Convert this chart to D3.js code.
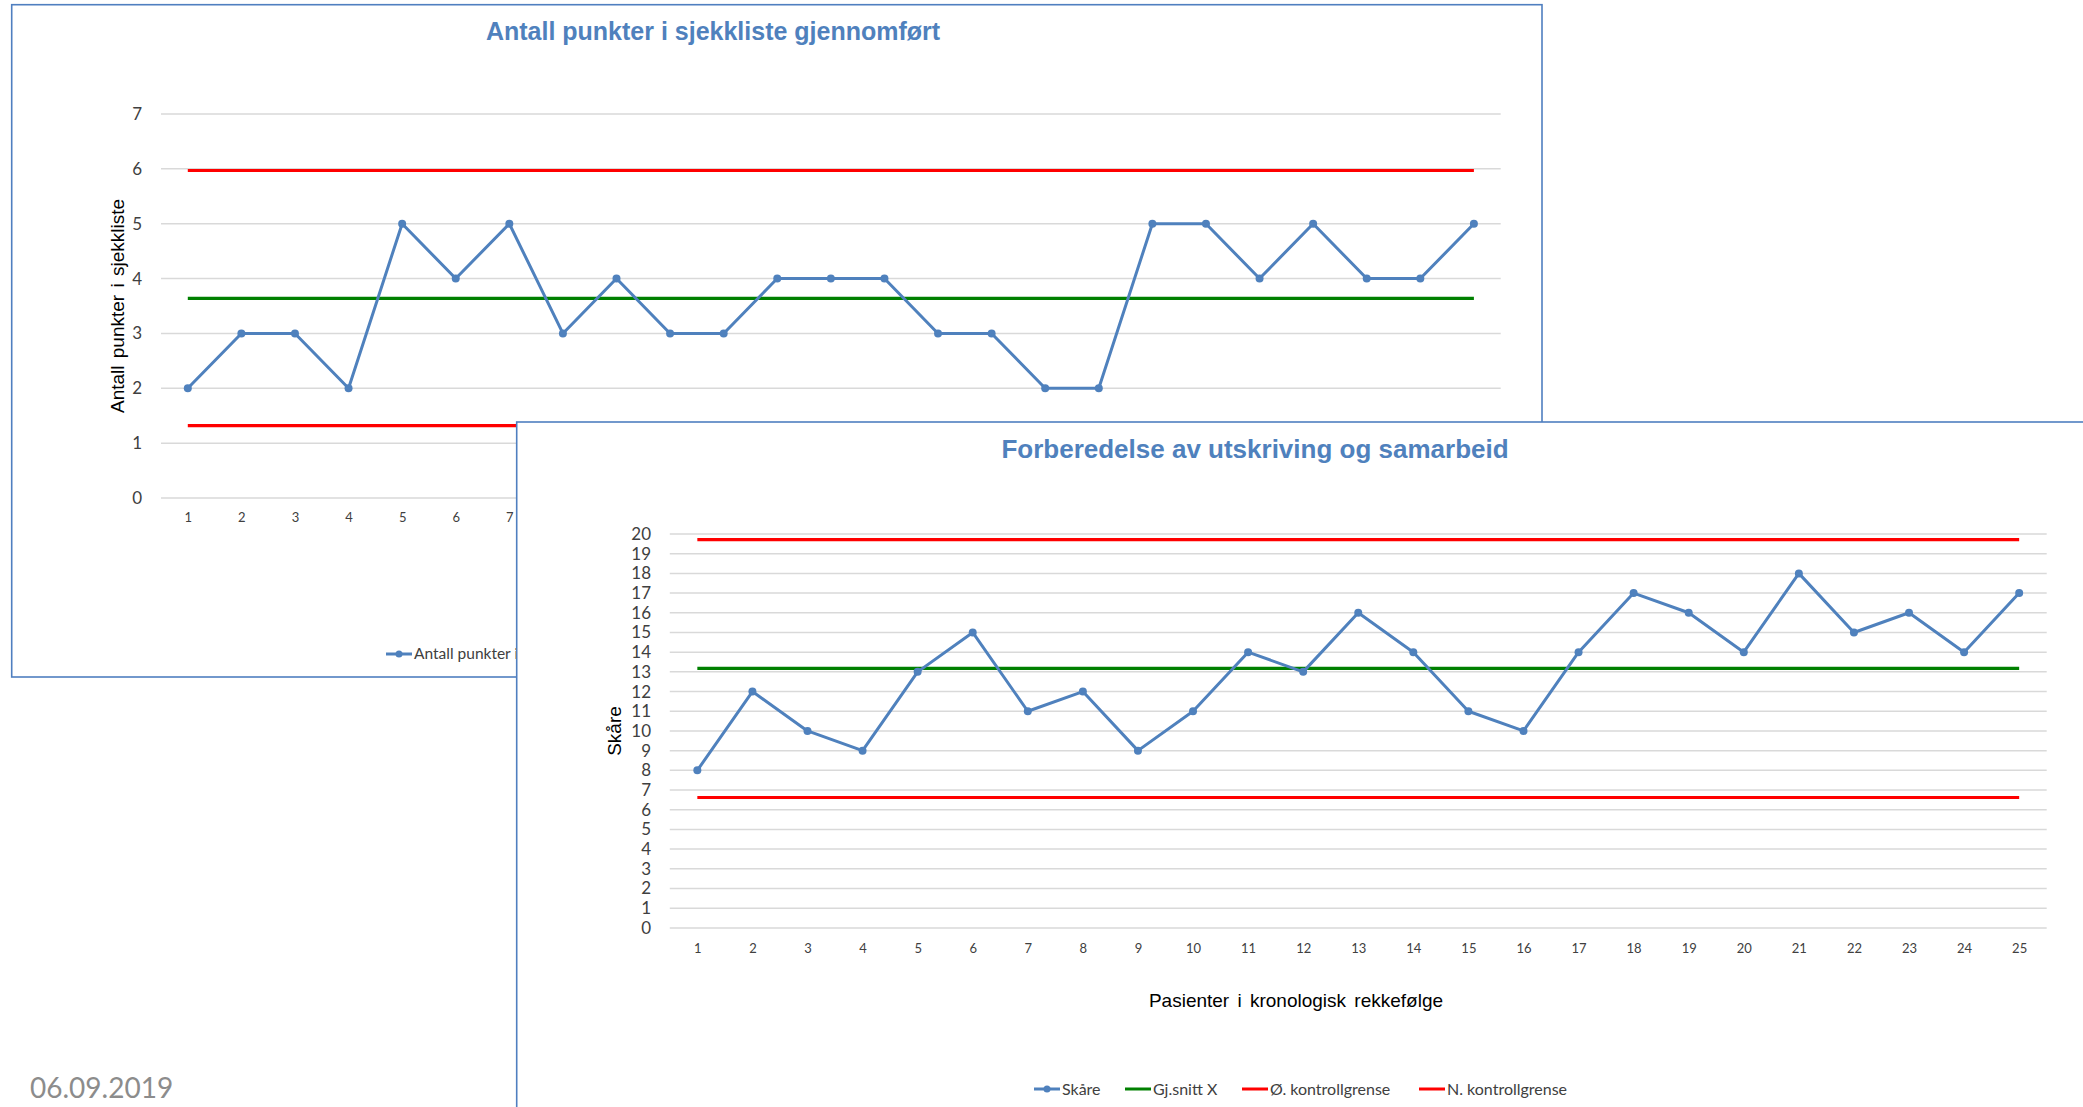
<!DOCTYPE html>
<html>
<head>
<meta charset="utf-8">
<script src="https://cdn.jsdelivr.net/npm/d3@7"></script>
<style>
  html, body { margin: 0; padding: 0; background: #ffffff; }
  svg { display: block; }
</style>
</head>
<body>
<script>
// ---- Data ----
const patients = d3.range(1, 26);

// Chart 1: number of checklist items completed
const checklistTitle = "Antall punkter i sjekkliste gjennomført";
const checklistValues = [2, 3, 3, 2, 5, 4, 5, 3, 4, 3, 3, 4, 4, 4, 3, 3, 2, 2, 5, 5, 4, 5, 4, 4, 5];
const checklistMean = 3.64;
const checklistUCL = 5.97;
const checklistLCL = 1.32;
const checklistYTicks = [0, 1, 2, 3, 4, 5, 6, 7];

// Chart 2: discharge preparation and collaboration score
const scoreTitle = "Forberedelse av utskriving og samarbeid";
const scoreValues = [8, 12, 10, 9, 13, 15, 11, 12, 9, 11, 14, 13, 16, 14, 11, 10, 14, 17, 16, 14, 18, 15, 16, 14, 17];
const scoreMean = 13.18;
const scoreUCL = 19.71;
const scoreLCL = 6.62;
const scoreYTicks = d3.range(0, 21);

const legendLabels = ["Skåre", "Gj.snitt X", "Ø. kontrollgrense", "N. kontrollgrense"];
const dateLabel = "06.09.2019";

// ---- Styles ----
const BLUE = "#4f81bd";
const RED = "#ff0000";
const GREEN = "#008000";
const GRID = "#d9d9d9";
const TEXT = "#404040";
const FRAME = "#4f7fc0";

const W = 2083, H = 1107;
const svg = d3.select("body").append("svg")
  .attr("width", W).attr("height", H);

svg.append("rect").attr("width", W).attr("height", H).attr("fill", "#fff");

// date footer
svg.append("text")
  .attr("x", 30).attr("y", 1098)
  .attr("font-family", "Lato, 'Open Sans', sans-serif")
  .attr("font-size", 28)
  .attr("fill", "#8c8c8c")
  .text(dateLabel);

function controlChart(g, cfg) {
  const x = d3.scalePoint().domain(patients).range(cfg.xRange).padding(0.5);
  const y = d3.scaleLinear().domain(cfg.yDomain).range(cfg.yRange);

  // frame
  g.append("rect")
    .attr("x", cfg.box[0]).attr("y", cfg.box[1])
    .attr("width", cfg.box[2]).attr("height", cfg.box[3])
    .attr("fill", "#fff").attr("stroke", FRAME).attr("stroke-width", 1.6);

  // title
  g.append("text")
    .attr("x", cfg.titlePos[0]).attr("y", cfg.titlePos[1])
    .attr("text-anchor", "middle")
    .attr("font-family", "'Liberation Sans', Arial, sans-serif")
    .attr("font-weight", "bold")
    .attr("font-size", cfg.titleSize)
    .attr("fill", BLUE)
    .text(cfg.title);

  // horizontal gridlines
  g.append("g").selectAll("line").data(cfg.yTicks).join("line")
    .attr("x1", cfg.xRange[0]).attr("x2", cfg.xRange[1])
    .attr("y1", d => y(d)).attr("y2", d => y(d))
    .attr("stroke", GRID).attr("stroke-width", 1.5);

  // y axis labels
  const yAxis = d3.axisLeft(y).tickValues(cfg.yTicks)
    .tickFormat(d3.format("d")).tickSize(0).tickPadding(0);
  const ya = g.append("g")
    .attr("transform", `translate(${cfg.yLabelX},0)`)
    .call(yAxis);
  ya.select(".domain").remove();
  ya.selectAll("text")
    .attr("font-family", "Lato, 'Open Sans', sans-serif")
    .attr("font-size", cfg.yTickSize)
    .attr("fill", TEXT);

  // x axis labels
  const xAxis = d3.axisBottom(x).tickSize(0).tickPadding(0);
  const xa = g.append("g")
    .attr("transform", `translate(0,${cfg.xLabelY})`)
    .call(xAxis);
  xa.select(".domain").remove();
  xa.selectAll("text")
    .attr("dy", "0.32em")
    .attr("font-family", "Lato, 'Open Sans', sans-serif")
    .attr("font-size", cfg.xTickSize)
    .attr("fill", TEXT);

  // y axis title
  g.append("text")
    .attr("transform", `translate(${cfg.yTitlePos[0]},${cfg.yTitlePos[1]}) rotate(-90)`)
    .attr("text-anchor", "middle")
    .attr("dy", "0.35em")
    .attr("font-family", "'Liberation Sans', Arial, sans-serif")
    .attr("font-size", cfg.yTitleSize)
    .attr("word-spacing", cfg.wordSpacing || 0)
    .attr("fill", "#000")
    .text(cfg.yTitle);

  if (cfg.xTitle) {
    g.append("text")
      .attr("x", cfg.xTitlePos[0]).attr("y", cfg.xTitlePos[1])
      .attr("text-anchor", "middle")
      .attr("dy", "0.35em")
      .attr("font-family", "'Liberation Sans', Arial, sans-serif")
      .attr("font-size", cfg.xTitleSize)
      .attr("word-spacing", 3)
      .attr("fill", "#000")
      .text(cfg.xTitle);
  }

  // control limits and mean
  const refLine = d3.line().x(d => x(d[0])).y(d => y(d[1]));
  const refs = [
    { v: cfg.ucl, c: RED },
    { v: cfg.lcl, c: RED },
    { v: cfg.mean, c: GREEN }
  ];
  g.append("g").selectAll("path").data(refs).join("path")
    .attr("d", r => refLine(patients.map(p => [p, r.v])))
    .attr("fill", "none").attr("stroke", d => d.c).attr("stroke-width", 3.2);

  // series
  const pts = patients.map((p, i) => [p, cfg.values[i]]);
  g.append("path")
    .attr("d", refLine(pts))
    .attr("fill", "none").attr("stroke", BLUE)
    .attr("stroke-width", 3).attr("stroke-linejoin", "round");
  g.append("g").selectAll("circle").data(pts).join("circle")
    .attr("cx", d => x(d[0])).attr("cy", d => y(d[1]))
    .attr("r", 4).attr("fill", BLUE);

  return { x, y };
}

// ---- Chart 1 ----
const g1 = svg.append("g");
controlChart(g1, {
  box: [11.7, 4.7, 1530.3, 672.3],
  title: checklistTitle, titlePos: [713, 40], titleSize: 25,
  xRange: [161, 1500.7], yDomain: [0, 7], yRange: [498, 114],
  yTicks: checklistYTicks, yLabelX: 142, yTickSize: 17,
  xLabelY: 518, xTickSize: 13,
  yTitle: "Antall punkter i sjekkliste", yTitlePos: [117, 306], yTitleSize: 19, wordSpacing: 2,
  values: checklistValues, mean: checklistMean, ucl: checklistUCL, lcl: checklistLCL
});
// chart 1 legend
const leg1 = g1.append("g").attr("transform", "translate(386,654)");
leg1.append("line").attr("x1", 0).attr("x2", 26).attr("stroke", BLUE).attr("stroke-width", 3);
leg1.append("circle").attr("cx", 13).attr("r", 3.5).attr("fill", BLUE);
leg1.append("text").attr("x", 28).attr("dy", "0.35em")
  .attr("font-family", "Lato, 'Open Sans', sans-serif").attr("font-size", 15.5)
  .attr("fill", TEXT).text("Antall punkter i sjekkliste");

// ---- Chart 2 ----
const g2 = svg.append("g");
controlChart(g2, {
  box: [516.7, 422, 1600, 720],
  title: scoreTitle, titlePos: [1255, 458], titleSize: 26,
  xRange: [669.8, 2046.7], yDomain: [0, 20], yRange: [927.9, 534],
  yTicks: scoreYTicks, yLabelX: 651, yTickSize: 17,
  xLabelY: 948.6, xTickSize: 13,
  yTitle: "Skåre", yTitlePos: [614, 731], yTitleSize: 19,
  xTitle: "Pasienter i kronologisk rekkefølge", xTitlePos: [1296, 1000], xTitleSize: 19,
  values: scoreValues, mean: scoreMean, ucl: scoreUCL, lcl: scoreLCL
});

// chart 2 legend
const legendColors = [BLUE, GREEN, RED, RED];
const legendX = [1034, 1125, 1242, 1419];
const leg2 = g2.append("g").attr("transform", "translate(0,1089)");
legendLabels.forEach((lab, i) => {
  const it = leg2.append("g").attr("transform", `translate(${legendX[i]},0)`);
  it.append("line").attr("x1", 0).attr("x2", 26)
    .attr("stroke", legendColors[i]).attr("stroke-width", 3);
  if (i === 0) it.append("circle").attr("cx", 13).attr("r", 3.5).attr("fill", BLUE);
  it.append("text").attr("x", 28).attr("dy", "0.35em")
    .attr("font-family", "Lato, 'Open Sans', sans-serif").attr("font-size", 16)
    .attr("fill", TEXT).text(lab);
});
</script>
</body>
</html>
